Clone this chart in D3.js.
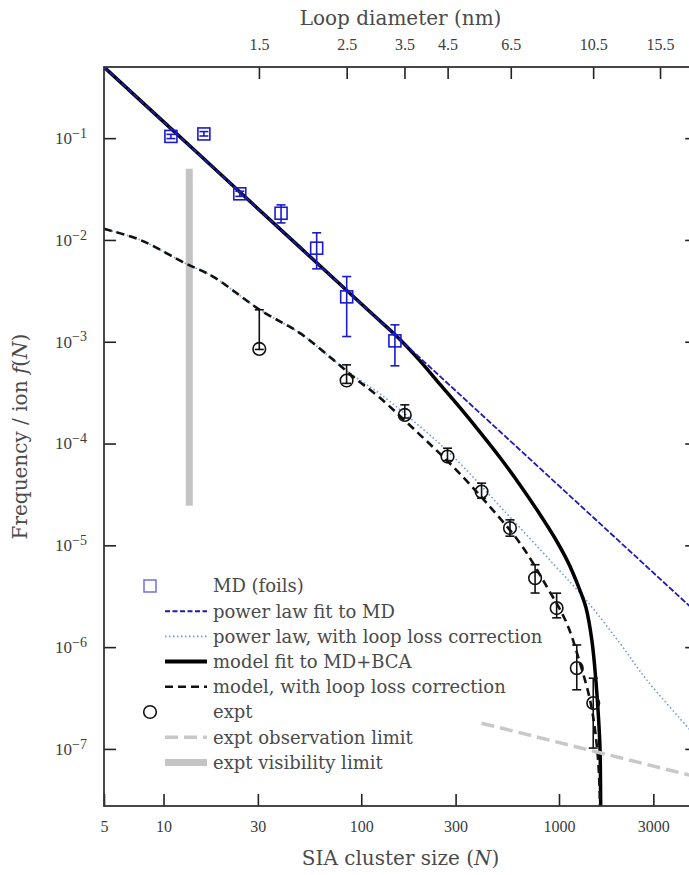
<!DOCTYPE html>
<html lang="en">
<head>
  <meta charset="UTF-8">
  <title>SIA cluster size distribution</title>
  <script src="https://d3js.org/d3.v7.min.js"></script>
  <style>
    body { margin: 0; background: #fff; }
    .tick text { font-family: "Liberation Serif", serif; font-size: 16px; fill: #3c3c3c; }
    .txt { font-family: "DejaVu Serif", serif; fill: #4a4a4a; }
  </style>
</head>
<body>
<div id="chart"></div>
<script>
  // MD (foils): cluster size, frequency, error bar ends
  const mdN = [10.9, 16.0, 24.3, 39.3, 59.5, 84.4, 148];
  const mdF = [0.104, 0.110, 0.0284, 0.0183, 0.0083, 0.00276, 0.00102];
  const mdLo = [0.099, 0.105, 0.0268, 0.0147, 0.0052, 0.001125, 0.00058];
  const mdHi = [0.109, 0.116, 0.0301, 0.0221, 0.01175, 0.00437, 0.001466];

  // experiment
  const exN = [30.5, 84.3, 166, 273, 406, 565, 757, 973, 1230, 1490];
  const exF = [8.5e-4, 4.16e-4, 1.91e-4, 7.45e-5, 3.37e-5, 1.48e-5, 4.76e-6, 2.42e-6, 6.22e-7, 2.82e-7];
  const exLo = [8.4e-4, 3.9e-4, 1.78e-4, 6.8e-5, 2.9e-5, 1.23e-5, 3.4e-6, 1.94e-6, 3.81e-7, 1.02e-7];
  const exHi = [2.06e-3, 5.93e-4, 2.4e-4, 9.0e-5, 4.08e-5, 1.78e-5, 6.45e-6, 3.39e-6, 1.05e-6, 4.95e-7];

  // curves
  const fitN = [5, 5000];
  const fitF = [0.5, 2.16e-6];
  const lossFitN = [5, 7.6, 12.83, 17.78, 30.7, 48.98, 72.2, 90.8, 124.3, 198.2, 292, 522.7, 936, 1381, 2035, 2777, 4546, 5000];
  const lossFitF = [0.01285, 0.01002, 0.00592, 0.00437, 0.002057, 0.001215, 6.64e-4, 4.68e-4, 3.08e-4, 1.47e-4, 7.45e-5, 2.23e-5, 6.58e-6, 2.85e-6, 1.09e-6, 4.77e-7, 1.575e-7, 1.27e-7];
  const modelN = [5, 15.3, 49.0, 110.6, 157, 198.2, 250.1, 315.7, 398.5, 502.9, 635, 801.5, 954.5, 1110.5, 1248, 1369.6, 1468.7, 1538.6, 1584, 1613, 1625, 1635];
  const modelF = [0.5, 0.0678, 0.00845, 0.00197, 1.053e-3, 6.49e-4, 3.815e-4, 2.247e-4, 1.294e-4, 7.29e-5, 3.92e-5, 2.011e-5, 1.174e-5, 6.84e-6, 4.04e-6, 2.44e-6, 1.143e-6, 4.55e-7, 2.048e-7, 9.8e-8, 2.83e-8, 1e-8];
  const lossModelN = [5, 7.6, 12.83, 17.78, 30.7, 48.98, 72.2, 90.8, 124.3, 198.2, 291, 430.8, 635, 866.8, 1094, 1277, 1435, 1521, 1581, 1613, 1618];
  const lossModelF = [0.01285, 0.01002, 0.00592, 0.00437, 0.002057, 0.001215, 6.64e-4, 4.55e-4, 2.81e-4, 1.218e-4, 5.94e-5, 2.6e-5, 1.05e-5, 3.94e-6, 1.72e-6, 6.97e-7, 3.04e-7, 1.54e-7, 7.26e-8, 2.83e-8, 1e-8];

  // limits
  const visN = [13.5, 13.5];
  const visF = [2.45e-5, 0.05];
  const obsN = [406, 5000];
  const obsF = [1.79e-7, 5.3e-8];

  // ticks
  const xTicks = [5, 10, 30, 100, 300, 1000, 3000];
  const yTicks = [1e-1, 1e-2, 1e-3, 1e-4, 1e-5, 1e-6, 1e-7];
  const diamTicks = [1.5, 2.5, 3.5, 4.5, 6.5, 10.5, 15.5];
  const atomsPerNm2 = 13.5; // N = 13.5 d^2

  const legendLabels = ["MD (foils)", "power law fit to MD", "power law, with loop loss correction",
    "model fit to MD+BCA", "model, with loop loss correction", "expt", "expt observation limit", "expt visibility limit"];

  const W = 689, H = 875;
  const L = 104, R = 697.2, T = 67, B = 806;

  const svg = d3.select("#chart").append("svg").attr("width", W).attr("height", H);

  const x = d3.scaleLog().domain([5, 5000]).range([L, R]);
  const y = d3.scaleLog().domain([2.75e-8, 0.5]).range([B, T]);

  svg.append("clipPath").attr("id", "plot").append("rect")
    .attr("x", L).attr("y", T).attr("width", R - L).attr("height", B - T);
  const g = svg.append("g").attr("clip-path", "url(#plot)");

  const zip = (a, b) => a.map((v, i) => [v, b[i]]);
  const line = d3.line().x(d => x(d[0])).y(d => y(d[1]));
  const smooth = d3.line().x(d => x(d[0])).y(d => y(d[1])).curve(d3.curveCatmullRom.alpha(0.5));

  // visibility limit
  g.append("path").attr("d", line(zip(visN, visF)))
    .attr("stroke", "#c4c4c4").attr("stroke-width", 7).attr("fill", "none");

  // power law with loss correction
  g.append("path").attr("d", smooth(zip(lossFitN, lossFitF)))
    .attr("stroke", "#6f96e6").attr("stroke-width", 1.6).attr("stroke-dasharray", "1.5,2.5").attr("fill", "none");

  // model fit
  g.append("path").attr("d", smooth(zip(modelN, modelF)))
    .attr("stroke", "#000").attr("stroke-width", 3.5).attr("fill", "none");

  // power law fit
  g.append("path").attr("d", line(zip(fitN, fitF)))
    .attr("stroke", "#1c1cb4").attr("stroke-width", 1.8).attr("stroke-dasharray", "6,2").attr("fill", "none");

  // model with loss correction
  g.append("path").attr("d", smooth(zip(lossModelN, lossModelF)))
    .attr("stroke", "#111").attr("stroke-width", 2.6).attr("stroke-dasharray", "8,5").attr("fill", "none");

  // observation limit
  g.append("path").attr("d", line(zip(obsN, obsF)))
    .attr("stroke", "#c8c8c8").attr("stroke-width", 3.5).attr("stroke-dasharray", "13,6").attr("fill", "none");

  // error bars
  function errorBars(N, lo, hi, color) {
    const eb = g.append("g").attr("stroke", color).attr("stroke-width", 1.6);
    N.forEach((n, i) => {
      const cx = x(n);
      eb.append("line").attr("x1", cx).attr("x2", cx).attr("y1", y(lo[i])).attr("y2", y(hi[i]));
      eb.append("line").attr("x1", cx - 4.5).attr("x2", cx + 4.5).attr("y1", y(lo[i])).attr("y2", y(lo[i]));
      eb.append("line").attr("x1", cx - 4.5).attr("x2", cx + 4.5).attr("y1", y(hi[i])).attr("y2", y(hi[i]));
    });
  }

  errorBars(exN, exLo, exHi, "#111");
  g.selectAll(".ex").data(exN).enter().append("circle")
    .attr("cx", d => x(d)).attr("cy", (d, i) => y(exF[i])).attr("r", 6.3)
    .attr("fill", "none").attr("stroke", "#111").attr("stroke-width", 1.6);

  errorBars(mdN, mdLo, mdHi, "#1a1ad0");
  g.selectAll(".md").data(mdN).enter().append("rect")
    .attr("x", d => x(d) - 6).attr("y", (d, i) => y(mdF[i]) - 6).attr("width", 12).attr("height", 12)
    .attr("fill", "none").attr("stroke", "#1a1ad0").attr("stroke-width", 1.6);

  // axes
  const fmtSup = s => s.replace("-", "\u2212");
  svg.append("g").attr("transform", `translate(0,${B})`)
    .call(d3.axisBottom(x).tickValues(xTicks).tickFormat(d3.format("d")).tickSize(-12).tickSizeOuter(0).tickPadding(15))
    .call(a => a.select(".domain").remove())
    .call(a => a.selectAll(".tick line").attr("stroke", "#222").attr("stroke-width", 1.6));

  svg.append("g").attr("transform", `translate(0,${T})`)
    .call(d3.axisTop(x).tickValues(diamTicks.map(d => atomsPerNm2 * d * d))
      .tickFormat((d, i) => diamTicks[i].toFixed(1)).tickSize(-12).tickSizeOuter(0).tickPadding(17))
    .call(a => a.select(".domain").remove())
    .call(a => a.selectAll(".tick line").attr("stroke", "#222").attr("stroke-width", 1.6));

  const yAxis = svg.append("g").attr("transform", `translate(${L},0)`)
    .call(d3.axisLeft(y).tickValues(yTicks).tickSize(-12).tickSizeOuter(0).tickPadding(17))
    .call(a => a.select(".domain").remove())
    .call(a => a.selectAll(".tick line").attr("stroke", "#222").attr("stroke-width", 1.6));
  yAxis.selectAll(".tick text").style("font-size", "17px").each(function (d) {
    const t = d3.select(this).text(null);
    t.append("tspan").text("10");
    t.append("tspan").attr("dy", "-0.45em").style("font-size", "14px").text(fmtSup(String(Math.round(Math.log10(d)))));
  });

  svg.append("g").attr("transform", `translate(${R},0)`)
    .call(d3.axisRight(y).tickValues(yTicks).tickSize(-12).tickSizeOuter(0).tickFormat(""))
    .call(a => a.select(".domain").remove())
    .call(a => a.selectAll(".tick line").attr("stroke", "#222").attr("stroke-width", 1.6));

  svg.append("rect").attr("x", L).attr("y", T).attr("width", R - L).attr("height", B - T)
    .attr("fill", "none").attr("stroke", "#333").attr("stroke-width", 1.8);

  // titles
  svg.append("text").attr("class", "txt").attr("x", (L + R) / 2).attr("y", 25)
    .attr("text-anchor", "middle").attr("font-size", "20px").text("Loop diameter (nm)");
  const xt = svg.append("text").attr("class", "txt").attr("x", (L + R) / 2).attr("y", 865)
    .attr("text-anchor", "middle").attr("font-size", "20px");
  xt.append("tspan").text("SIA cluster size (");
  xt.append("tspan").attr("font-style", "italic").text("N");
  xt.append("tspan").text(")");
  const yt = svg.append("text").attr("class", "txt").attr("transform", `translate(27,${(T + B) / 2}) rotate(-90)`)
    .attr("text-anchor", "middle").attr("font-size", "20px");
  yt.append("tspan").text("Frequency / ion ");
  yt.append("tspan").attr("font-style", "italic").text("f");
  yt.append("tspan").text("(");
  yt.append("tspan").attr("font-style", "italic").text("N");
  yt.append("tspan").text(")");

  // legend
  const lg = svg.append("g");
  const row = i => 586 + i * 25.2;
  const hx0 = 165, hx1 = 207;
  lg.selectAll("text").data(legendLabels).enter().append("text").attr("class", "txt")
    .attr("x", 213).attr("y", (d, i) => row(i)).attr("dy", "0.35em").attr("font-size", "18px").text(d => d);
  lg.append("rect").attr("x", 144).attr("y", row(0) - 6).attr("width", 12).attr("height", 12)
    .attr("fill", "none").attr("stroke", "#7a7ae0").attr("stroke-width", 1.6);
  const handle = (i, color, w, dash) => lg.append("line").attr("x1", hx0).attr("x2", hx1)
    .attr("y1", row(i)).attr("y2", row(i)).attr("stroke", color).attr("stroke-width", w)
    .attr("stroke-dasharray", dash);
  handle(1, "#1c1cb4", 2, "5,2.5");
  handle(2, "#6f96e6", 1.6, "1.5,2.5");
  handle(3, "#000", 4, null);
  handle(4, "#111", 2.6, "8,5");
  lg.append("circle").attr("cx", 150).attr("cy", row(5)).attr("r", 6.3)
    .attr("fill", "none").attr("stroke", "#111").attr("stroke-width", 1.6);
  handle(6, "#c8c8c8", 3.5, "13,6");
  handle(7, "#c4c4c4", 7, null);
</script>
</body>
</html>
